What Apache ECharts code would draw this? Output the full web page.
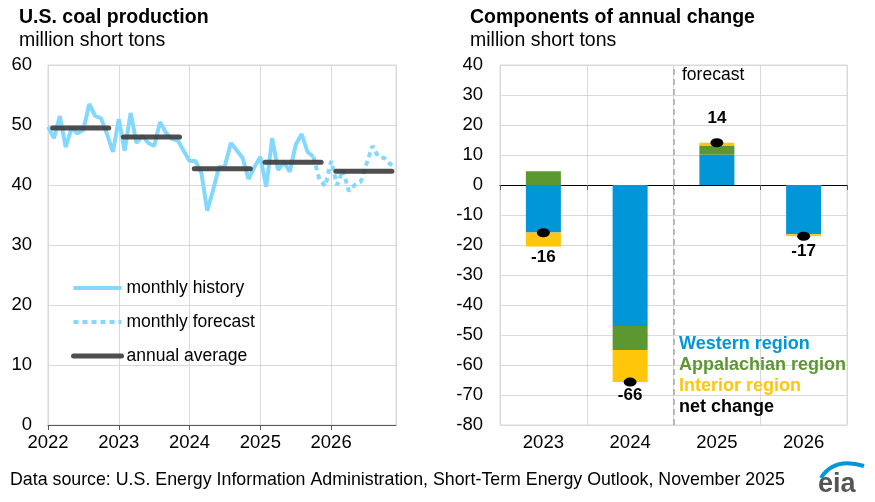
<!DOCTYPE html>
<html>
<head>
<meta charset="utf-8">
<script src="https://cdn.jsdelivr.net/npm/echarts@6/dist/echarts.min.js"></script>
<style>
  html, body { margin: 0; padding: 0; background: #fff; }
  #main { width: 875px; height: 502px; }
</style>
</head>
<body>
<div id="main"></div>
<script>
// left panel: monthly coal production, Jan 2022 .. Dec 2026 (month index 0..59)
var years = ['2022', '2023', '2024', '2025', '2026'];
var monthlyHistory = [
  49.7, 47.8, 51.5, 46.3, 49.5, 48.6, 49.2, 53.5, 51.5, 51.1, 48.5, 45.5,
  51.0, 45.7, 52.0, 47.0, 48.2, 47.0, 46.5, 50.5, 48.7, 47.7, 47.4, 45.7,
  44.0, 44.0, 42.0, 35.7, 39.2, 43.0, 43.2, 47.0, 45.8, 44.5, 41.0, 43.0,
  44.7, 39.7, 47.8, 42.5, 43.8, 42.2, 46.7, 48.5, 45.5, 44.7
];
// forecast starts from last history month (Oct 2025)
var forecastStart = 45;
var monthlyForecast = [
  44.7, 41.0, 39.8,
  44.0, 40.0, 42.5, 39.0, 40.0, 40.5, 43.5, 46.5, 44.7, 44.5, 43.5, 42.8
];
var annualAvg = [49.5, 48.0, 42.7, 43.8, 42.3];

// right panel: components of annual change
var changeYears = ['2023', '2024', '2025', '2026'];
var western = [-15.8, -47.0, 10.1, -16.3];
var appalachian = [4.6, -8.0, 3.1, -0.1];
var interior = [-4.7, -10.7, 0.9, -0.7];
var netChange = [-15.9, -65.7, 14.1, -17.1];

var FONT = 'Liberation Sans, Arial, sans-serif';
var GRID_C = '#d9d9d9';

var chart = echarts.init(document.getElementById('main'));

var histData = monthlyHistory.map(function (v, i) { return [i, v]; });
var fcData = monthlyForecast.map(function (v, i) { return [forecastStart + i, v]; });

var series = [
  {
    name: 'monthly history', type: 'line', xAxisIndex: 0, yAxisIndex: 0,
    data: histData, symbol: 'none', z: 2,
    lineStyle: { color: '#84d8ff', width: 4 }, itemStyle: { color: '#84d8ff' }
  },
  {
    name: 'monthly forecast', type: 'line', xAxisIndex: 0, yAxisIndex: 0,
    data: fcData, symbol: 'none', z: 2,
    lineStyle: { color: '#84d8ff', width: 4, type: [5, 4] }, itemStyle: { color: '#84d8ff' }
  }
];
annualAvg.forEach(function (v, k) {
  series.push({
    name: 'annual average', type: 'line', xAxisIndex: 0, yAxisIndex: 0,
    data: [[12 * k + 0.8, v], [12 * k + 10.3, v]], symbol: 'none', z: 3,
    lineStyle: { color: '#3f3f3f', width: 5, cap: 'round', opacity: 0.92 },
    itemStyle: { color: '#3f3f3f' }
  });
});

series.push(
  {
    name: 'Western region', type: 'bar', stack: 'c', xAxisIndex: 1, yAxisIndex: 1,
    data: western, barWidth: 35, itemStyle: { color: '#0096d7' }
  },
  {
    name: 'Appalachian region', type: 'bar', stack: 'c', xAxisIndex: 1, yAxisIndex: 1,
    data: appalachian, barWidth: 35, itemStyle: { color: '#5d9732' }
  },
  {
    name: 'Interior region', type: 'bar', stack: 'c', xAxisIndex: 1, yAxisIndex: 1,
    data: interior, barWidth: 35, itemStyle: { color: '#ffc60a' }
  }
);

var labelDist = [12, 0, 11, 2];
series.push({
  name: 'net change', type: 'scatter', xAxisIndex: 1, yAxisIndex: 1,
  symbol: 'circle', symbolSize: [13, 9], z: 5,
  itemStyle: { color: '#000', opacity: 1 },
  data: netChange.map(function (v, i) {
    return {
      value: v,
      label: {
        show: true,
        position: v < 0 ? 'bottom' : 'top',
        distance: labelDist[i],
        formatter: String(Math.round(v)),
        fontFamily: FONT, fontSize: 17, fontWeight: 'bold', color: '#000'
      }
    };
  })
});

// forecast divider between 2024 and 2025
series.push({
  type: 'scatter', xAxisIndex: 3, yAxisIndex: 1, data: [], silent: true,
  markLine: {
    silent: true, symbol: 'none', label: { show: false },
    lineStyle: { color: '#a6a6a6', type: [6, 4], width: 1.5 },
    data: [{ xAxis: 2 }]
  }
});

var option = {
  animation: false,
  textStyle: { fontFamily: FONT },
  title: [
    {
      text: 'U.S. coal production', subtext: 'million short tons',
      left: 19, top: 8, itemGap: 3, padding: 0,
      textStyle: { fontFamily: FONT, fontSize: 19.5, fontWeight: 'bold', color: '#000' },
      subtextStyle: { fontFamily: FONT, fontSize: 19.5, color: '#000' }
    },
    {
      text: 'Components of annual change', subtext: 'million short tons',
      left: 470, top: 8, itemGap: 3, padding: 0,
      textStyle: { fontFamily: FONT, fontSize: 19.5, fontWeight: 'bold', color: '#000' },
      subtextStyle: { fontFamily: FONT, fontSize: 19.5, color: '#000' }
    }
  ],
  legend: [
    {
      data: ['monthly history', 'monthly forecast', 'annual average'],
      orient: 'vertical', left: 71, top: 279, padding: 0,
      itemWidth: 48, itemHeight: 14, itemGap: 16,
      selectedMode: false,
      itemStyle: { opacity: 0 },
      lineStyle: { width: 'inherit' },
      textStyle: { fontFamily: FONT, fontSize: 17.5, color: '#000' }
    },
    {
      data: [
        { name: 'Western region', textStyle: { color: '#0096d7' } },
        { name: 'Appalachian region', textStyle: { color: '#5d9732' } },
        { name: 'Interior region', textStyle: { color: '#ffc60a' } },
        { name: 'net change', textStyle: { color: '#000' } }
      ],
      orient: 'vertical', left: 674, top: 335, padding: 0,
      icon: 'rect', itemWidth: 0, itemHeight: 14, itemGap: 3,
      selectedMode: false,
      textStyle: { fontFamily: FONT, fontSize: 18, fontWeight: 'bold' }
    }
  ],
  grid: [
    { left: 48, top: 65, width: 348, height: 360, show: true, borderColor: GRID_C, borderWidth: 1 },
    { left: 500, top: 65, width: 347, height: 360, show: true, borderColor: GRID_C, borderWidth: 1 }
  ],
  xAxis: [
    {
      gridIndex: 0, type: 'value', min: 0, max: 59, interval: 12,
      axisLine: { show: true, lineStyle: { color: '#595959', width: 1 } },
      axisTick: { show: true, length: 5, lineStyle: { color: '#595959' } },
      splitLine: { show: true, lineStyle: { color: GRID_C } },
      axisLabel: {
        fontFamily: FONT, fontSize: 18.5, color: '#000', margin: 8,
        showMaxLabel: false,
        formatter: function (v) { return v % 12 === 0 ? years[v / 12] : ''; }
      }
    },
    {
      gridIndex: 1, type: 'category', data: changeYears,
      axisLine: { show: true, onZero: true, lineStyle: { color: '#000', width: 1 } },
      axisTick: { show: true, length: 5, lineStyle: { color: '#595959' } },
      splitLine: { show: true, lineStyle: { color: GRID_C } },
      axisLabel: { show: false }
    },
    {
      gridIndex: 1, type: 'category', data: changeYears, position: 'bottom',
      axisLine: { show: false, onZero: false },
      axisTick: { show: false },
      splitLine: { show: false },
      axisLabel: { fontFamily: FONT, fontSize: 18.5, color: '#000', margin: 8 }
    },
    {
      gridIndex: 1, type: 'value', min: 0, max: 4, show: false
    }
  ],
  yAxis: [
    {
      gridIndex: 0, type: 'value', min: 0, max: 60, interval: 10,
      axisLine: { show: false }, axisTick: { show: false },
      splitLine: { lineStyle: { color: GRID_C } },
      axisLabel: { fontFamily: FONT, fontSize: 18.5, color: '#000', margin: 16 }
    },
    {
      gridIndex: 1, type: 'value', min: -80, max: 40, interval: 10,
      axisLine: { show: false }, axisTick: { show: false },
      splitLine: { lineStyle: { color: GRID_C } },
      axisLabel: { fontFamily: FONT, fontSize: 18.5, color: '#000', margin: 17 }
    }
  ],
  graphic: [
    {
      type: 'text', left: 682, top: 66,
      style: { text: 'forecast', fontFamily: FONT, fontSize: 17.5, fill: '#000' }
    },
    {
      type: 'text', left: 10, top: 471,
      style: {
        text: 'Data source: U.S. Energy Information Administration, Short-Term Energy Outlook, November 2025',
        fontFamily: FONT, fontSize: 17.8, fill: '#000'
      }
    },
    {
      type: 'text', left: 818, top: 471,
      style: { text: 'eia', fontFamily: FONT, fontSize: 27, fontWeight: 'bold', fill: '#555' }
    },
    {
      type: 'bezierCurve',
      shape: { x1: 821, y1: 478, x2: 864, y2: 466, cpx1: 834, cpy1: 457 },
      style: { stroke: '#0096d7', lineWidth: 4, fill: null }
    }
  ],
  series: series
};

chart.setOption(option);
</script>
</body>
</html>
